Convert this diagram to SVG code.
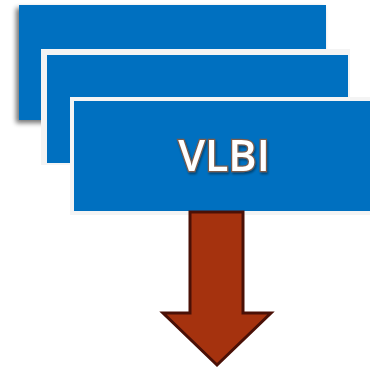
<svg xmlns="http://www.w3.org/2000/svg" width="370" height="371" viewBox="0 0 370 371">
<defs>
<filter id="sh" x="-20%" y="-20%" width="140%" height="140%">
<feGaussianBlur in="SourceAlpha" stdDeviation="2.5"/>
<feOffset dx="-3" dy="3" result="b"/>
<feComponentTransfer><feFuncA type="linear" slope="0.55"/></feComponentTransfer>
<feMerge><feMergeNode/><feMergeNode in="SourceGraphic"/></feMerge>
</filter>
<filter id="tsh" x="-20%" y="-20%" width="140%" height="140%">
<feGaussianBlur in="SourceAlpha" stdDeviation="1.2"/>
<feOffset dx="1" dy="1.5"/>
<feComponentTransfer><feFuncA type="linear" slope="0.4"/></feComponentTransfer>
<feMerge><feMergeNode/><feMergeNode in="SourceGraphic"/></feMerge>
</filter>
</defs>
<style>
.card{fill:#0070C0}
.frame{fill:#F4F4F4}
.lbl{font-family:"Open Sans","Liberation Sans",sans-serif;font-weight:600;font-size:43px;fill:#FFFFFF;stroke:#7A5C4E;stroke-width:2.5;paint-order:stroke;text-anchor:middle}
.arrow{fill:#A5320E;stroke:#4A1006;stroke-width:3;stroke-linejoin:miter}
</style>
<g id="card1">
<rect class="card" x="19" y="5" width="307" height="115" filter="url(#sh)"/>
</g>
<g id="card2">
<rect class="frame" x="41" y="49" width="309" height="116"/>
<rect class="card" x="47" y="55" width="301" height="108"/>
</g>
<g id="card3">
<rect class="frame" x="70" y="97" width="300" height="118"/>
<rect class="card" x="74" y="101" width="296" height="110"/>
<text class="lbl" x="224" y="171" filter="url(#tsh)">VLBI</text>
</g>
<g id="connectors">
<path class="arrow" d="M190,212 L243,212 L243,313 L271,313 L217,365 L163,313 L190,313 Z"/>
</g>
</svg>
